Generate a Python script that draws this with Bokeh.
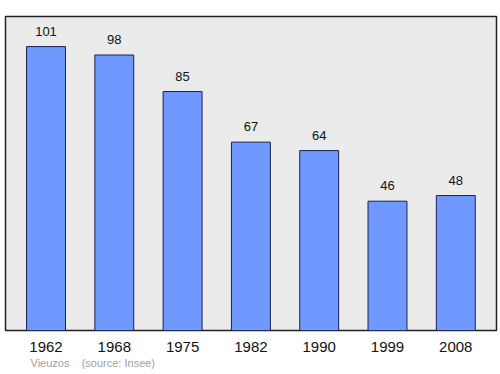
from bokeh.plotting import figure
from bokeh.models import FixedTicker, Title, ColumnDataSource, Range1d
from bokeh.core.properties import value
from bokeh.embed import file_html
from bokeh.resources import INLINE

years = ["1962", "1968", "1975", "1982", "1990", "1999", "2008"]
population = [101, 98, 85, 67, 64, 46, 48]
commune = "Vieuzos"
source_note = "(source: Insee)"

xs = list(range(len(years)))
src = ColumnDataSource(dict(x=xs, top=population, lab=[str(v) for v in population]))

p = figure(width=500, height=374, output_backend="svg", toolbar_location=None,
           x_range=Range1d(-0.593, 6.596), y_range=Range1d(0, 111.7),
           min_border_left=5, min_border_right=4, min_border_top=16, min_border_bottom=44)
p.background_fill_color = "#ebebeb"
p.border_fill_color = "white"
p.outline_line_color = "#222222"
p.outline_line_width = 1.5
p.grid.visible = False
p.yaxis.visible = False

p.vbar(x="x", top="top", width=0.57, bottom=0, source=src,
       fill_color="#7099ff", line_color="#1a2050", line_width=1)
p.text(x="x", y="top", text="lab", source=src, text_align="center",
       text_baseline="bottom", y_offset=-11, text_font_size="13px",
       text_font=value("Liberation Sans"), text_color="#111111")

xa = p.xaxis[0]
xa.ticker = FixedTicker(ticks=xs)
xa.major_label_overrides = {i: y for i, y in zip(xs, years)}
xa.axis_line_color = None
xa.major_tick_line_color = None
xa.minor_tick_line_color = None
xa.major_tick_in = 0
xa.major_tick_out = 0
xa.major_label_text_font_size = "15px"
xa.major_label_text_font = "Liberation Sans"
xa.major_label_text_color = "#111111"
xa.major_label_standoff = 11

nbsp = "\u00a0"
p.add_layout(Title(text=commune + nbsp * 4 + source_note, align="left", offset=25,
                   text_font_size="11px", text_font="Liberation Sans",
                   text_color="#a0a0a0", text_font_style="normal",
                   standoff=0), "below")

open("out.html", "w").write(file_html(p, INLINE))
